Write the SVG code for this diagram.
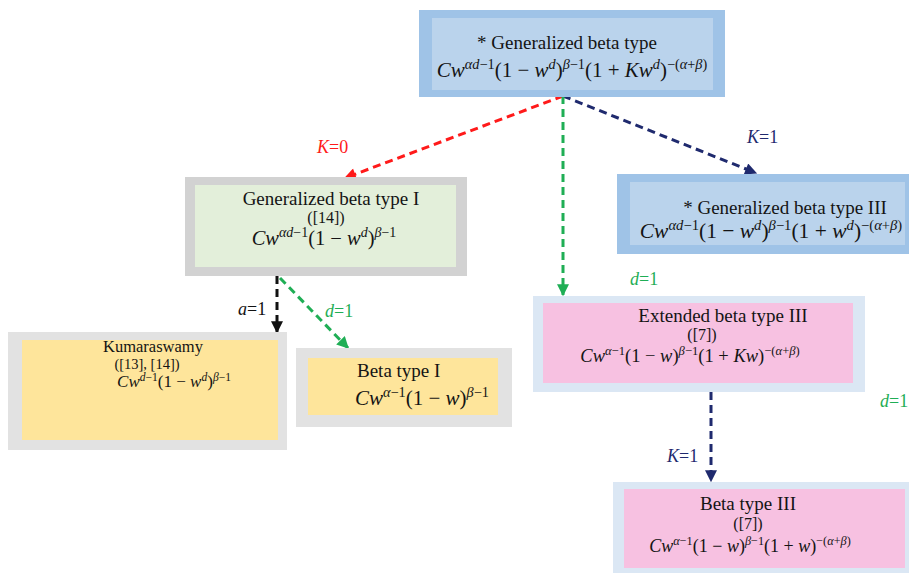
<svg xmlns="http://www.w3.org/2000/svg" width="909" height="573" viewBox="0 0 909 573">
<defs>
<style>
text{font-family:'Liberation Serif','Times New Roman',serif}
.t{font-size:19px;fill:#141414}
.r{font-size:16px;fill:#141414}
.f{fill:#141414}
.i{font-style:italic}
.s{font-size:0.68em}
.lb{font-size:18px}
.c{fill:none;stroke-width:3;stroke-dasharray:8 5}
.blue-o{fill:#9fc3e7}.blue-i{fill:#bad3ec}
.gray-o{fill:#d2d2d2}.green-i{fill:#e3efda}
.lgray-o{fill:#e2e2e2}.yel-i{fill:#fee59b}
.lblue-o{fill:#dbe7f4}.pink-i{fill:#f7c1e1}
</style>
<marker id="mr" viewBox="0 0 10 10" refX="9" refY="5" markerUnits="userSpaceOnUse" markerWidth="14" markerHeight="12" orient="auto"><path d="M0,0 L10,5 L0,10 z" fill="#ff1a1a"/></marker>
<marker id="mn" viewBox="0 0 10 10" refX="9" refY="5" markerUnits="userSpaceOnUse" markerWidth="14" markerHeight="12" orient="auto"><path d="M0,0 L10,5 L0,10 z" fill="#1f2a6e"/></marker>
<marker id="mg" viewBox="0 0 10 10" refX="9" refY="5" markerUnits="userSpaceOnUse" markerWidth="14" markerHeight="12" orient="auto"><path d="M0,0 L10,5 L0,10 z" fill="#1fae55"/></marker>
<marker id="mk" viewBox="0 0 10 10" refX="9" refY="5" markerUnits="userSpaceOnUse" markerWidth="14" markerHeight="12" orient="auto"><path d="M0,0 L10,5 L0,10 z" fill="#111"/></marker>
</defs>
<rect width="909" height="573" fill="#ffffff"/>

<g id="connectors">
<line class="c" x1="563" y1="96" x2="345" y2="178" stroke="#ff1a1a" marker-end="url(#mr)"/>
<line class="c" x1="563" y1="96" x2="756" y2="173" stroke="#1f2a6e" marker-end="url(#mn)"/>
<line class="c" x1="563" y1="96" x2="563" y2="295" stroke="#1fae55" marker-end="url(#mg)"/>
<line class="c" x1="277" y1="276" x2="277" y2="332" stroke="#111" marker-end="url(#mk)"/>
<line class="c" x1="280" y1="278" x2="348" y2="348" stroke="#1fae55" marker-end="url(#mg)"/>
<line class="c" x1="711" y1="392" x2="711" y2="481" stroke="#1f2a6e" marker-end="url(#mn)"/>
<text class="lb" x="317" y="153" fill="#ff1a1a"><tspan class="i">K</tspan>=0</text>
<text class="lb" x="747" y="143" fill="#1f2a6e"><tspan class="i">K</tspan>=1</text>
<text class="lb" x="630" y="285" fill="#1fae55"><tspan class="i">d</tspan>=1</text>
<text class="lb" x="238" y="315" fill="#111"><tspan class="i">a</tspan>=1</text>
<text class="lb" x="325" y="317" fill="#1fae55"><tspan class="i">d</tspan>=1</text>
<text class="lb" x="667" y="462" fill="#1f2a6e"><tspan class="i">K</tspan>=1</text>
<text class="lb" x="880" y="407" fill="#1fae55"><tspan class="i">d</tspan>=1</text>
</g>

<g id="gen-beta">
<rect class="blue-o" x="419" y="10" width="306" height="87"/>
<rect class="blue-i" x="432" y="18" width="281" height="72"/>
<text class="t" x="567" y="49" text-anchor="middle">* Generalized beta type</text>
<text class="f" x="572" y="77" text-anchor="middle" style="font-size:21px"><tspan class="i">Cw</tspan><tspan class="s i" dy="-8">αd</tspan><tspan class="s">−1</tspan><tspan dy="8">(1 − </tspan><tspan class="i">w</tspan><tspan class="s i" dy="-8">d</tspan><tspan dy="8">)</tspan><tspan class="s i" dy="-8">β</tspan><tspan class="s">−1</tspan><tspan dy="8">(1 + </tspan><tspan class="i">Kw</tspan><tspan class="s i" dy="-8">d</tspan><tspan dy="8">)</tspan><tspan class="s" dy="-8">−(</tspan><tspan class="s i">α</tspan><tspan class="s">+</tspan><tspan class="s i">β</tspan><tspan class="s">)</tspan></text>
</g>

<g id="gen-beta-1">
<rect class="gray-o" x="185" y="177" width="282" height="99"/>
<rect class="green-i" x="195" y="185" width="261" height="82"/>
<text class="t" x="331" y="205" text-anchor="middle">Generalized beta type I</text>
<text class="r" x="326" y="223" text-anchor="middle">([14])</text>
<text class="f" x="324" y="245" text-anchor="middle" style="font-size:20.5px"><tspan class="i">Cw</tspan><tspan class="s i" dy="-8">αd</tspan><tspan class="s">−1</tspan><tspan dy="8">(1 − </tspan><tspan class="i">w</tspan><tspan class="s i" dy="-8">d</tspan><tspan dy="8">)</tspan><tspan class="s i" dy="-8">β</tspan><tspan class="s">−1</tspan></text>
</g>

<g id="gen-beta-3">
<rect class="blue-o" x="617" y="174" width="292" height="80"/>
<rect class="blue-i" x="630" y="182" width="275" height="63"/>
<text class="t" x="785" y="214" text-anchor="middle">* Generalized beta type III</text>
<text class="f" x="771" y="238" text-anchor="middle" style="font-size:21.5px"><tspan class="i">Cw</tspan><tspan class="s i" dy="-8">αd</tspan><tspan class="s">−1</tspan><tspan dy="8">(1 − </tspan><tspan class="i">w</tspan><tspan class="s i" dy="-8">d</tspan><tspan dy="8">)</tspan><tspan class="s i" dy="-8">β</tspan><tspan class="s">−1</tspan><tspan dy="8">(1 + </tspan><tspan class="i">w</tspan><tspan class="s i" dy="-8">d</tspan><tspan dy="8">)</tspan><tspan class="s" dy="-8">−(</tspan><tspan class="s i">α</tspan><tspan class="s">+</tspan><tspan class="s i">β</tspan><tspan class="s">)</tspan></text>
</g>

<g id="extended-beta-3">
<rect class="lblue-o" x="533" y="296" width="332" height="96"/>
<rect class="pink-i" x="543" y="303" width="310" height="80"/>
<text class="t" x="723" y="322" text-anchor="middle">Extended beta type III</text>
<text class="r" x="702" y="340" text-anchor="middle">([7])</text>
<text class="f" x="690" y="362" text-anchor="middle" style="font-size:18.5px"><tspan class="i">Cw</tspan><tspan class="s i" dy="-7">α</tspan><tspan class="s">−1</tspan><tspan dy="7">(1 − </tspan><tspan class="i">w</tspan><tspan>)</tspan><tspan class="s i" dy="-7">β</tspan><tspan class="s">−1</tspan><tspan dy="7">(1 + </tspan><tspan class="i">Kw</tspan><tspan>)</tspan><tspan class="s" dy="-7">−(</tspan><tspan class="s i">α</tspan><tspan class="s">+</tspan><tspan class="s i">β</tspan><tspan class="s">)</tspan></text>
</g>

<g id="kumaraswamy">
<rect class="lgray-o" x="8" y="332" width="279" height="118"/>
<rect class="yel-i" x="22" y="340" width="256" height="100"/>
<text class="t" x="153" y="352" text-anchor="middle" style="font-size:16.5px">Kumaraswamy</text>
<text class="r" x="147" y="369" text-anchor="middle" style="font-size:14.5px">([13], [14])</text>
<text class="f" x="174" y="387" text-anchor="middle" style="font-size:17px"><tspan class="i">Cw</tspan><tspan class="s i" dy="-6">d</tspan><tspan class="s">−1</tspan><tspan dy="6">(1 − </tspan><tspan class="i">w</tspan><tspan class="s i" dy="-6">d</tspan><tspan dy="6">)</tspan><tspan class="s i" dy="-6">β</tspan><tspan class="s">−1</tspan></text>
</g>

<g id="beta-1">
<rect class="lgray-o" x="296" y="348" width="216" height="79"/>
<rect class="yel-i" x="308" y="358" width="190" height="57"/>
<text class="t" x="357" y="377">Beta type I</text>
<text class="f" x="355" y="405" style="font-size:21px"><tspan class="i">Cw</tspan><tspan class="s i" dy="-8">α</tspan><tspan class="s">−1</tspan><tspan dy="8">(1 − </tspan><tspan class="i">w</tspan><tspan>)</tspan><tspan class="s i" dy="-8">β</tspan><tspan class="s">−1</tspan></text>
</g>

<g id="beta-3">
<rect class="lblue-o" x="613" y="482" width="296" height="91"/>
<rect class="pink-i" x="624" y="489" width="281" height="79"/>
<text class="t" x="748" y="510" text-anchor="middle">Beta type III</text>
<text class="r" x="748" y="529" text-anchor="middle">([7])</text>
<text class="f" x="750" y="552" text-anchor="middle" style="font-size:18px"><tspan class="i">Cw</tspan><tspan class="s i" dy="-7">α</tspan><tspan class="s">−1</tspan><tspan dy="7">(1 − </tspan><tspan class="i">w</tspan><tspan>)</tspan><tspan class="s i" dy="-7">β</tspan><tspan class="s">−1</tspan><tspan dy="7">(1 + </tspan><tspan class="i">w</tspan><tspan>)</tspan><tspan class="s" dy="-7">−(</tspan><tspan class="s i">α</tspan><tspan class="s">+</tspan><tspan class="s i">β</tspan><tspan class="s">)</tspan></text>
</g>
</svg>
